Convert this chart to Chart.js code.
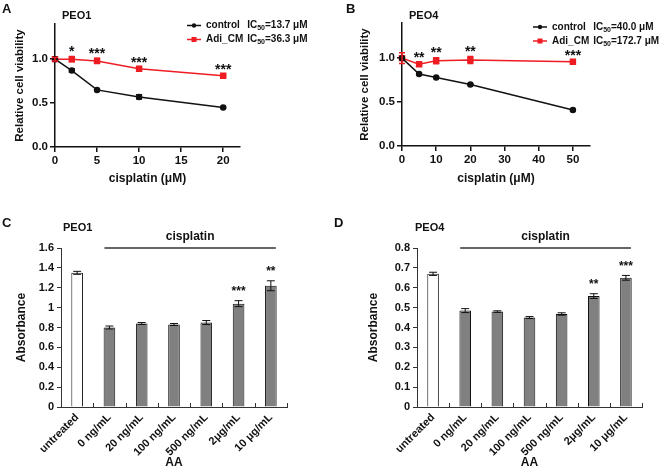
<!DOCTYPE html>
<html>
<head>
<meta charset="utf-8">
<script src="https://cdn.jsdelivr.net/npm/chart.js@4.4.0/dist/chart.umd.min.js"></script>
<style>
body { margin: 0; background: #fff; }
#fig { position: relative; width: 660px; height: 475px; font-family: "Liberation Sans", Arial, sans-serif; font-weight: bold; color: #111; }
#fig canvas { position: absolute; }
#fig .lbl { position: absolute; line-height: 1; white-space: nowrap; }
.letter { font-size: 13px; }
.cell { font-size: 11px; }
</style>
</head>
<body>
<div id="fig">
  <canvas id="chartA" width="330" height="215" style="left:0;top:0"></canvas>
  <canvas id="chartB" width="330" height="215" style="left:330px;top:0"></canvas>
  <canvas id="chartC" width="330" height="260" style="left:0;top:215px"></canvas>
  <canvas id="chartD" width="330" height="260" style="left:330px;top:215px"></canvas>
  <div class="lbl letter" style="left:2px;top:2px">A</div>
  <div class="lbl letter" style="left:346px;top:2px">B</div>
  <div class="lbl letter" style="left:2px;top:216px">C</div>
  <div class="lbl letter" style="left:334px;top:216px">D</div>
  <div class="lbl cell" style="left:62px;top:10px">PEO1</div>
  <div class="lbl cell" style="left:409px;top:10px">PEO4</div>
  <div class="lbl cell" style="left:63px;top:222px">PEO1</div>
  <div class="lbl cell" style="left:415px;top:222px">PEO4</div>
</div>
<script>
// ---- panel A (PEO1 viability) ----
const aDose = [0, 2, 5, 10, 20];
const aControl = [1.0, 0.87, 0.65, 0.57, 0.45];
const aControlErr = [0.01, 0.02, 0.008, 0.025, 0.008];
const aAdi = [1.0, 1.0, 0.98, 0.89, 0.81];
const aAdiErr = [0.02, 0.03, 0.03, 0.01, 0.01];
const aStars = ['', '*', '***', '***', '***'];
const aIC50 = ['13.7', '36.3'];
const aXTicks = [0, 5, 10, 15, 20];

// ---- panel B (PEO4 viability) ----
const bDose = [0, 5, 10, 20, 50];
const bControl = [1.0, 0.82, 0.78, 0.70, 0.41];
const bControlErr = [0.01, 0.008, 0.008, 0.008, 0.008];
const bAdi = [1.0, 0.93, 0.97, 0.98, 0.96];
const bAdiErr = [0.06, 0.02, 0.035, 0.04, 0.01];
const bStars = ['', '**', '**', '**', '***'];
const bIC50 = ['40.0', '172.7'];
const bXTicks = [0, 10, 20, 30, 40, 50];

const viabYTicks = [0, 0.5, 1.0];
const seriesNames = ['control', 'Adi_CM'];

// ---- panels C / D (absorbance) ----
const aaLabels = ['untreated', '0 ng/mL', '20 ng/mL', '100 ng/mL', '500 ng/mL', '2μg/mL', '10 μg/mL'];
const cValues = [1.35, 0.80, 0.84, 0.83, 0.85, 1.04, 1.22];
const cErr = [0.015, 0.015, 0.01, 0.01, 0.02, 0.03, 0.05];
const cStars = ['', '', '', '', '', '***', '**'];
const cYTicks = [0, 0.2, 0.4, 0.6, 0.8, 1.0, 1.2, 1.4, 1.6];
const dValues = [0.67, 0.485, 0.48, 0.45, 0.468, 0.558, 0.65];
const dErr = [0.008, 0.01, 0.004, 0.005, 0.006, 0.012, 0.012];
const dStars = ['', '', '', '', '', '**', '***'];
const dYTicks = [0, 0.1, 0.2, 0.3, 0.4, 0.5, 0.6, 0.7, 0.8];

const FONT = '"Liberation Sans", Arial, sans-serif';
const RED = '#ee1d23';
const INK = '#111';

Chart.defaults.font.family = FONT;
Chart.defaults.font.weight = 'bold';
Chart.defaults.color = INK;
Chart.defaults.animation = false;
Chart.defaults.plugins.legend.display = false;
Chart.defaults.plugins.tooltip.enabled = false;

function val(d) {
    return (d !== null && typeof d === 'object') ? d.y : d;
}

// draws +/- error bars for any dataset that has an "errors" array
const errorBars = {
    id: 'errorBars',
    afterDatasetsDraw(chart) {
        const ctx = chart.ctx;
        const ys = chart.scales.y;
        chart.data.datasets.forEach(function (ds, di) {
            if (!ds.errors) return;
            const meta = chart.getDatasetMeta(di);
            ctx.save();
            ctx.strokeStyle = ds.errorColor || INK;
            ctx.lineWidth = ds.errorWidth || 1;
            meta.data.forEach(function (el, i) {
                const v = val(ds.data[i]);
                const e = ds.errors[i];
                const yt = ys.getPixelForValue(v + e);
                const yb = ys.getPixelForValue(v - e);
                const c = ds.capWidth / 2;
                ctx.beginPath();
                ctx.moveTo(el.x, yt); ctx.lineTo(el.x, yb);
                ctx.moveTo(el.x - c, yt); ctx.lineTo(el.x + c, yt);
                ctx.moveTo(el.x - c, yb); ctx.lineTo(el.x + c, yb);
                ctx.stroke();
            });
            ctx.restore();
        });
    }
};

// significance asterisks above one dataset
const stars = {
    id: 'stars',
    afterDatasetsDraw(chart, args, opts) {
        if (!opts.labels) return;
        const ctx = chart.ctx;
        const ds = chart.data.datasets[opts.dataset];
        const meta = chart.getDatasetMeta(opts.dataset);
        ctx.save();
        ctx.fillStyle = INK;
        ctx.font = 'bold ' + opts.size + 'px ' + FONT;
        ctx.textAlign = 'center';
        ctx.textBaseline = 'middle';
        opts.labels.forEach(function (s, i) {
            if (!s) return;
            const top = val(ds.data[i]) + (ds.errors ? ds.errors[i] : 0);
            ctx.fillText(s, meta.data[i].x, chart.scales.y.getPixelForValue(top) - opts.offset);
        });
        ctx.restore();
    }
};

// legend with IC50 subscript
const icLegend = {
    id: 'icLegend',
    afterDraw(chart, args, opts) {
        if (!opts.ic) return;
        const ctx = chart.ctx;
        ctx.save();
        ctx.textBaseline = 'middle';
        ctx.font = 'bold ' + opts.size + 'px ' + FONT;
        let labelW = 0;
        chart.data.datasets.forEach(function (ds) {
            labelW = Math.max(labelW, ctx.measureText(ds.label).width);
        });
        chart.data.datasets.forEach(function (ds, i) {
            const y = opts.y + i * opts.gap;
            ctx.strokeStyle = ds.borderColor;
            ctx.fillStyle = ds.borderColor;
            ctx.lineWidth = 1.5;
            ctx.beginPath();
            ctx.moveTo(opts.x, y); ctx.lineTo(opts.x + 14, y);
            ctx.stroke();
            const mx = opts.x + 7;
            if (ds.pointStyle === 'rect') {
                ctx.fillRect(mx - 2.5, y - 2.5, 5, 5);
            } else {
                ctx.beginPath(); ctx.arc(mx, y, 2.2, 0, Math.PI * 2); ctx.fill();
            }
            ctx.fillStyle = INK;
            ctx.font = 'bold ' + opts.size + 'px ' + FONT;
            let x = opts.x + 19;
            ctx.fillText(ds.label, x, y);
            x += labelW + 4;
            ctx.fillText('IC', x, y);
            x += ctx.measureText('IC').width;
            ctx.font = 'bold ' + (opts.size * 0.7) + 'px ' + FONT;
            ctx.fillText('50', x, y + 3);
            x += ctx.measureText('50').width;
            ctx.font = 'bold ' + opts.size + 'px ' + FONT;
            ctx.fillText('=' + opts.ic[i] + ' μM', x, y);
        });
        ctx.restore();
    }
};

// "cisplatin" bracket line over the treated bars
const bracket = {
    id: 'bracket',
    afterDraw(chart, args, opts) {
        if (!opts.text) return;
        const ctx = chart.ctx;
        const xs = chart.scales.x;
        const x0 = xs.getPixelForValue(opts.from) - opts.extend;
        const x1 = xs.getPixelForValue(opts.to) + opts.extend;
        const y = chart.chartArea.top;
        ctx.save();
        ctx.strokeStyle = '#333';
        ctx.lineWidth = 1.5;
        ctx.beginPath(); ctx.moveTo(x0, y); ctx.lineTo(x1, y); ctx.stroke();
        ctx.fillStyle = INK;
        ctx.font = 'bold 12px ' + FONT;
        ctx.textAlign = 'center';
        ctx.textBaseline = 'middle';
        ctx.fillText(opts.text, (x0 + x1) / 2, y - 11);
        ctx.restore();
    }
};

// small upward ticks between the categories of the bar charts
const innerTicks = {
    id: 'innerTicks',
    afterDraw(chart) {
        const xs = chart.scales.x;
        const n = chart.data.labels.length;
        const bottom = chart.chartArea.bottom;
        const ctx = chart.ctx;
        ctx.save();
        ctx.strokeStyle = '#333';
        ctx.lineWidth = 1;
        ctx.beginPath();
        for (let i = 1; i <= n; i++) {
            const x = Math.round(xs.getPixelForValue(i - 0.5)) + 0.5;
            ctx.moveTo(x, bottom); ctx.lineTo(x, bottom - 4);
        }
        ctx.stroke();
        ctx.restore();
    }
};

function viabilityChart(id, dose, ctrl, ctrlErr, adi, adiErr, xMax, xTicks, starLabels, ic50, g) {
    return new Chart(document.getElementById(id), {
        type: 'line',
        data: {
            datasets: [{
                label: seriesNames[0],
                data: dose.map(function (d, i) { return {x: d, y: ctrl[i]}; }),
                errors: ctrlErr,
                capWidth: 6,
                errorWidth: 1.5,
                borderColor: INK,
                backgroundColor: INK,
                borderWidth: 1.5,
                pointStyle: 'circle',
                pointRadius: 2.5,
                clip: false
            }, {
                label: seriesNames[1],
                data: dose.map(function (d, i) { return {x: d, y: adi[i]}; }),
                errors: adiErr,
                errorColor: RED,
                capWidth: 6,
                errorWidth: 1.5,
                borderColor: RED,
                backgroundColor: RED,
                borderWidth: 1.5,
                pointStyle: 'rect',
                pointRadius: 3.5,
                clip: false
            }]
        },
        options: {
            responsive: false,
            devicePixelRatio: 1,
            layout: {padding: {left: 0, top: g.top, right: g.right, bottom: g.bottom}},
            plugins: {
                stars: {labels: starLabels, dataset: 1, size: 14, offset: 4.5},
                icLegend: {ic: ic50, x: g.legX, y: g.legY, gap: 14, size: 10}
            },
            scales: {
                x: {
                    type: 'linear', min: 0, max: xMax,
                    afterBuildTicks: function (s) { s.ticks = xTicks.map(function (v) { return {value: v}; }); },
                    afterFit: function (s) { s.height = g.xh; },
                    ticks: {font: {size: 11.5}, padding: 2, maxRotation: 0},
                    grid: {drawOnChartArea: false, tickLength: 5, color: INK, lineWidth: 1.5},
                    border: {color: INK, width: 1.5},
                    title: {display: true, text: 'cisplatin (μM)', font: {size: 12}, padding: 0}
                },
                y: {
                    min: 0, max: 1.4,
                    afterBuildTicks: function (s) { s.ticks = viabYTicks.map(function (v) { return {value: v}; }); },
                    afterFit: function (s) { s.width = g.yw; },
                    ticks: {font: {size: 11.5}, padding: 2, callback: function (v) { return v.toFixed(1); }},
                    grid: {drawOnChartArea: false, tickLength: 5, color: INK, lineWidth: 1.5},
                    border: {color: INK, width: 1.5},
                    title: {display: true, text: 'Relative cell viability', font: {size: 11.5}, padding: {top: g.yt, bottom: 0}}
                }
            }
        },
        plugins: [errorBars, stars, icLegend]
    });
}

function absorbanceChart(id, values, errs, starLabels, yMax, yTicks, g) {
    return new Chart(document.getElementById(id), {
        type: 'bar',
        data: {
            labels: aaLabels,
            datasets: [{
                data: values,
                errors: errs,
                capWidth: 8,
                errorWidth: 1,
                backgroundColor: values.map(function (v, i) { return i === 0 ? '#ffffff' : '#808080'; }),
                borderColor: INK,
                borderWidth: 1,
                categoryPercentage: 1,
                barPercentage: 0.36
            }]
        },
        options: {
            responsive: false,
            devicePixelRatio: 1,
            layout: {padding: {left: 0, top: g.top, right: g.right, bottom: g.bottom}},
            plugins: {
                stars: {labels: starLabels, dataset: 0, size: 12, offset: 9},
                bracket: {text: 'cisplatin', from: 1, to: 6, extend: 5}
            },
            scales: {
                x: {
                    afterFit: function (s) { s.height = g.xh; },
                    ticks: {font: {size: 11}, padding: -4, minRotation: 45, maxRotation: 45},
                    grid: {display: false},
                    border: {color: '#333', width: 1},
                    title: {display: true, text: 'AA', font: {size: 12}, padding: 0}
                },
                y: {
                    min: 0, max: yMax,
                    afterBuildTicks: function (s) { s.ticks = yTicks.map(function (v) { return {value: v}; }); },
                    afterFit: function (s) { s.width = g.yw; },
                    ticks: {font: {size: 11}, padding: 3, callback: function (v) { return String(+v.toFixed(1)); }},
                    grid: {drawOnChartArea: false, tickLength: 4, color: '#333', lineWidth: 1},
                    border: {color: '#333', width: 1},
                    title: {display: true, text: 'Absorbance', font: {size: 12}, padding: {top: g.yt, bottom: 0}}
                }
            }
        },
        plugins: [errorBars, stars, bracket, innerTicks]
    });
}

viabilityChart('chartA', aDose, aControl, aControlErr, aAdi, aAdiErr, 22, aXTicks, aStars, aIC50,
    {top: 24, right: 90, bottom: 29, xh: 39, yw: 55, yt: 13, legX: 187, legY: 25.5});
viabilityChart('chartB', bDose, bControl, bControlErr, bAdi, bAdiErr, 55, bXTicks, bStars, bIC50,
    {top: 23, right: 70, bottom: 29, xh: 40, yw: 72, yt: 28, legX: 203, legY: 27});
absorbanceChart('chartC', cValues, cErr, cStars, 1.6, cYTicks,
    {top: 33, right: 43, bottom: 5, xh: 63, yw: 61, yt: 14});
absorbanceChart('chartD', dValues, dErr, dStars, 0.8, dYTicks,
    {top: 33, right: 18, bottom: 5, xh: 63, yw: 87, yt: 36});
</script>
</body>
</html>
